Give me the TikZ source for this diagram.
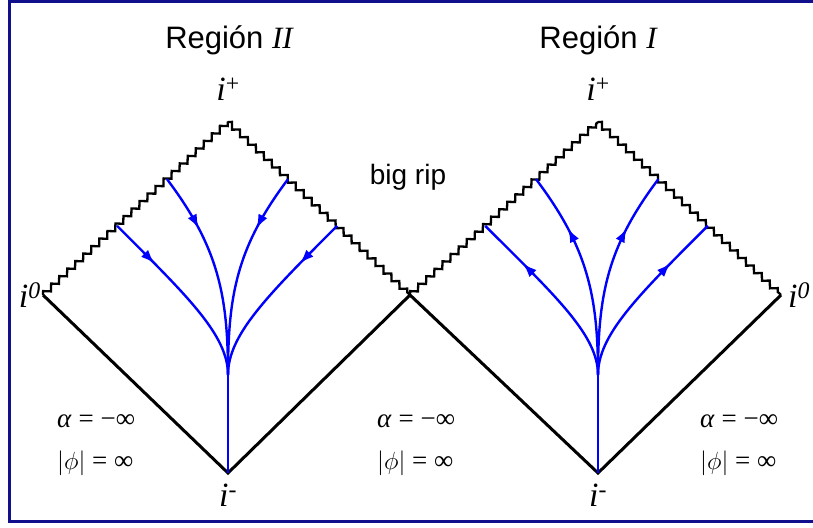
\documentclass[tikz,border=0pt]{standalone}
\usepackage{amsmath}
\usepackage{fontspec}
\setmainfont{Liberation Sans}
\newfontfamily\timesfont{Liberation Serif}
\usetikzlibrary{arrows.meta, positioning, calc, decorations.pathmorphing, decorations.markings}
\definecolor{framenavy}{RGB}{16,16,140}
\definecolor{flowblue}{RGB}{0,0,255}

\begin{document}
\begin{tikzpicture}[x=1pt, y=1pt,
  horizon/.style={line width=2.3pt, decorate,
    decoration={zigzag, segment length=11pt, amplitude=2.75pt}},
  nullline/.style={line width=3pt},
  flowline/.style={flowblue, line width=2.4pt},
  flowin/.style={flowline, postaction={decorate}, decoration={markings,
    mark=at position 0.28 with {\arrow{Latex[length=14pt,width=10pt]}}}},
  flowout/.style={flowline, postaction={decorate}, decoration={markings,
    mark=at position 0.28 with {\arrowreversed{Latex[length=14pt,width=10pt]}}}},
  vertex/.style={font=\fontsize{34}{40}\selectfont\timesfont\itshape, inner sep=2pt},
  region/.style={font=\fontsize{31}{36}\selectfont, anchor=base},
  asym/.style={font=\fontsize{27}{32}\selectfont\timesfont, anchor=base west, inner sep=0pt}]
\useasboundingbox (0,0) rectangle (813,527);
\draw[framenavy, line width=3pt] (813,525) -- (9,525) -- (9,6) -- (813,6);

\coordinate (left2) at (43,232);
\coordinate (top2) at (228,405);
\coordinate (mid) at (410,232);
\coordinate (bot2) at (228,54);
\coordinate (top1) at (598,405);
\coordinate (right1) at (781,232);
\coordinate (bot1) at (598,54);
\coordinate (m2) at (228,152);
\coordinate (m1) at (598,152);

\draw[horizon] (left2) -- (top2);
\draw[horizon] (top2) -- (mid);
\draw[horizon] (mid) -- (top1);
\draw[horizon] (top1) -- (right1);
\draw[nullline, line join=miter] (left2) -- (bot2) -- (mid) -- (bot1) -- (right1);

\coordinate (a2) at ($(top2)!0.33!(left2)$);
\coordinate (b2) at ($(top2)!0.6!(left2)$);
\coordinate (c2) at ($(top2)!0.33!(mid)$);
\coordinate (d2) at ($(top2)!0.6!(mid)$);
\coordinate (a1) at ($(top1)!0.33!(mid)$);
\coordinate (b1) at ($(top1)!0.6!(mid)$);
\coordinate (c1) at ($(top1)!0.33!(right1)$);
\coordinate (d1) at ($(top1)!0.6!(right1)$);

\draw[flowin] (a2) .. controls +(-53:85) and +(90:80) .. (m2);
\draw[flowin] (b2) .. controls +(-45:100) and +(90:40) .. (m2);
\draw[flowin] (c2) .. controls +(-127:85) and +(90:80) .. (m2);
\draw[flowin] (d2) .. controls +(-135:100) and +(90:40) .. (m2);
\draw[flowline] (m2) -- (bot2);

\draw[flowout] (a1) .. controls +(-53:85) and +(90:80) .. (m1);
\draw[flowout] (b1) .. controls +(-45:100) and +(90:40) .. (m1);
\draw[flowout] (c1) .. controls +(-127:85) and +(90:80) .. (m1);
\draw[flowout] (d1) .. controls +(-135:100) and +(90:40) .. (m1);
\draw[flowline] (m1) -- (bot1);

\node[region] (reg2) at (229,478) {Región {\timesfont\itshape II}};
\node[region] (reg1) at (598,478) {Región {\timesfont\itshape I}};
\node[region, font=\fontsize{28}{34}\selectfont] (rip) at (408,342) {big rip};

\node[vertex, above=19pt of top2] (iplus2) {i\textsuperscript{\upshape +}};
\node[vertex, above=19pt of top1] (iplus1) {i\textsuperscript{\upshape +}};
\node[vertex, left=0pt of left2] (izero2) {i\textsuperscript{0}};
\node[vertex, right=5pt of right1] (izero1) {i\textsuperscript{0}};
\node[vertex, below=9pt of bot2] (iminus2) {i\textsuperscript{\upshape -}};
\node[vertex, below=9pt of bot1] (iminus1) {i\textsuperscript{\upshape -}};

\node[asym] (alphaL) at (57,99) {\textit{α} = −∞};
\node[asym] (phiL) at (57,57) {$\left|\phi\right|$ = ∞};
\node[asym] (alphaM) at (377,99) {\textit{α} = −∞};
\node[asym] (phiM) at (377,57) {$\left|\phi\right|$ = ∞};
\node[asym] (alphaR) at (700,99) {\textit{α} = −∞};
\node[asym] (phiR) at (700,57) {$\left|\phi\right|$ = ∞};
\end{tikzpicture}
\end{document}
